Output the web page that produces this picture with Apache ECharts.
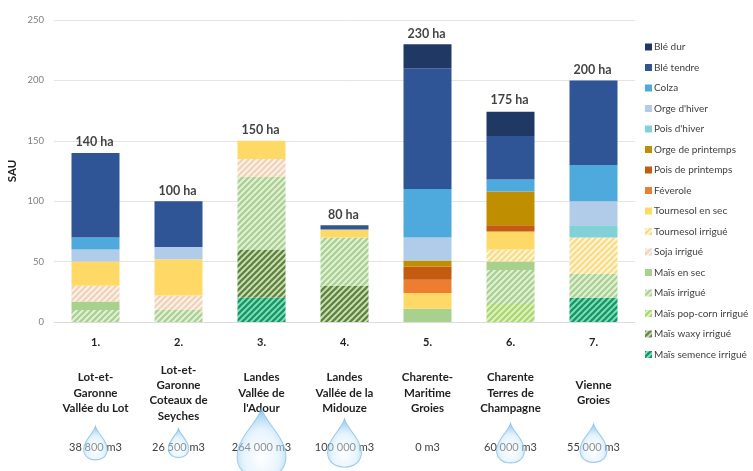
<!DOCTYPE html>
<html>
<head>
<meta charset="utf-8">
<style>html,body{margin:0;padding:0;background:#fff}#c{width:753px;height:471px}</style>
<script src="https://cdn.jsdelivr.net/npm/echarts@6/dist/echarts.min.js"></script>
</head>
<body>
<div id="c"></div>
<script>
const siteNumbers = ['1.','2.','3.','4.','5.','6.','7.'];
const siteNames = ['Lot-et-\nGaronne\nVallée du Lot','Lot-et-\nGaronne\nCoteaux de\nSeyches','Landes\nVallée de\nl\'Adour','Landes\nVallée de la\nMidouze','Charente-\nMaritime\nGroies','Charente\nTerres de\nChampagne','Vienne\nGroies'];
const waterVolumes = [38800,26500,264000,100000,0,60000,55000];
const totals = [140,100,150,80,230,175,200];
const yTicks = [0,50,100,150,200,250];

const bleDur          = [0,0,0,0,20,20,0];
const bleTendre       = [70,38,0,3.5,100,36,70];
const colza           = [10,0,0,0,40,10,30];
const orgeHiver       = [10,10,0,0,19,0,20];
const poisHiver       = [0,0,0,0,0,0,10];
const orgePrintemps   = [0,0,0,0,5,28,0];
const poisPrintemps   = [0,0,0,0,11,5,0];
const feverole        = [0,0,0,0,11,0,0];
const tournesolSec    = [20,30,15,6.5,13,15,0];
const tournesolIrrigue= [0,0,0,0,0,10,30];
const sojaIrrigue     = [13,12,15,0,0,0,0];
const maisSec         = [7,0,0,0,11,7,0];
const maisIrrigue     = [10,10,60,40,0,28,20];
const maisPopCorn     = [0,0,0,0,0,15,0];
const maisWaxy        = [0,0,40,30,0,0,0];
const maisSemence     = [0,0,20,0,0,0,20];

function hatch(bg, fg) {
  const n = 6, cv = document.createElement('canvas');
  cv.width = n; cv.height = n;
  const g = cv.getContext('2d');
  g.fillStyle = bg; g.fillRect(0,0,n,n);
  g.strokeStyle = fg; g.lineWidth = 2.3;
  [-n,0,n].forEach(o => { g.beginPath(); g.moveTo(o-1,n+1); g.lineTo(o+n+1,-1); g.stroke(); });
  return { image: cv, repeat: 'repeat' };
}

const crops = [
  ['Blé dur', bleDur, '#203864'],
  ['Blé tendre', bleTendre, '#2f5597'],
  ['Colza', colza, '#4ea9dc'],
  ["Orge d'hiver", orgeHiver, '#b0cce8'],
  ["Pois d'hiver", poisHiver, '#82d0d8'],
  ['Orge de printemps', orgePrintemps, '#bf8f00'],
  ['Pois de printemps', poisPrintemps, '#c55a11'],
  ['Féverole', feverole, '#ed7d31'],
  ['Tournesol en sec', tournesolSec, '#ffd966'],
  ['Tournesol irrigué', tournesolIrrigue, hatch('#fff7dd','#fbdc85')],
  ['Soja irrigué', sojaIrrigue, hatch('#fdf3ea','#f2d2ba')],
  ['Maïs en sec', maisSec, '#a9d18e'],
  ['Maïs irrigué', maisIrrigue, hatch('#e6f2dc','#abd192')],
  ['Maïs pop-corn irrigué', maisPopCorn, hatch('#e2f3c8','#a9d86e')],
  ['Maïs waxy irrigué', maisWaxy, hatch('#cfe2b8','#5f8442')],
  ['Maïs semence irrigué', maisSemence, hatch('#7fe3c0','#1c9565')]
];

const font = 'Lato, "Open Sans", sans-serif';
const dropPath = 'path://M50 0 C56 30 100 62 100 105 C100 133 78 150 50 150 C22 150 0 133 0 105 C0 62 44 30 50 0 Z';
const dropHeight = v => 0.61 * Math.pow(v, 0.38);
const fmtVol = v => String(v).replace(/\B(?=(\d{3})+$)/g, ' ') + ' m3';

const barSeries = crops.slice().reverse().map(c => ({
  name: c[0], type: 'bar', stack: 'sau', xAxisIndex: 0, yAxisIndex: 0,
  barWidth: 48, data: c[1], itemStyle: { color: c[2] }, silent: true
}));

const option = {
  animation: false,
  backgroundColor: '#fff',
  textStyle: { fontFamily: font },
  grid: [
    { left: 54, width: 581, top: 20, height: 302, outerBoundsMode: 'none' },
    { left: 54, width: 581, top: 410, height: 66, outerBoundsMode: 'none' }
  ],
  legend: {
    orient: 'vertical', left: 640, top: 36, itemWidth: 7, itemHeight: 7, itemGap: 8.5,
    icon: 'rect', selectedMode: false,
    data: crops.map(c => c[0]),
    textStyle: { fontFamily: font, fontSize: 10, color: '#404040', padding: [0,0,0,-3], lineHeight: 12 }
  },
  xAxis: [
    { type: 'category', gridIndex: 0, data: siteNumbers,
      axisLine: { lineStyle: { color: '#dcdcdc' } }, axisTick: { show: false },
      axisLabel: { interval: 0, margin: 15, fontFamily: font, fontSize: 11, fontWeight: 'bold', color: '#1f1f1f' } },
    { type: 'category', gridIndex: 0, position: 'bottom', offset: 71, data: siteNames,
      axisLine: { show: false }, axisTick: { show: false },
      axisLabel: { interval: 0, margin: 0, verticalAlign: 'middle', lineHeight: 15.3, fontFamily: font, fontSize: 11.5, fontWeight: 'bold', color: '#1f1f1f' } },
    { type: 'category', gridIndex: 0, position: 'bottom', offset: 125, data: waterVolumes.map(fmtVol),
      axisLine: { show: false }, axisTick: { show: false },
      axisLabel: { interval: 0, margin: 0, verticalAlign: 'middle', fontFamily: font, fontSize: 11, color: '#404040' } },
    { type: 'category', gridIndex: 1, data: siteNumbers, show: false }
  ],
  yAxis: [
    { type: 'value', gridIndex: 0, min: 0, max: 250, interval: 50, name: 'SAU', nameLocation: 'middle', nameGap: 36, nameMoveOverlap: false,
      nameTextStyle: { fontFamily: font, fontSize: 11.5, fontWeight: 'bold', color: '#1f1f1f' },
      axisLine: { show: false }, axisTick: { show: false },
      axisLabel: { margin: 10, fontFamily: font, fontSize: 9.5, color: '#7f7f7f', customValues: yTicks },
      splitLine: { lineStyle: { color: '#e4e4e4' } } },
    { type: 'value', gridIndex: 1, min: 0, max: 1, show: false }
  ],
  series: barSeries.concat([
    { name: 'totaux', type: 'scatter', xAxisIndex: 0, yAxisIndex: 0, symbolSize: 0, silent: true, z: 5,
      data: totals,
      label: { show: true, position: 'top', distance: 4, offset: [-1, 0], formatter: p => p.value + ' ha',
        fontFamily: font, fontSize: 12.5, fontWeight: 'bold', color: '#111' } },
    { name: 'eau', type: 'scatter', xAxisIndex: 3, yAxisIndex: 1, silent: true, z: 6, clip: false,
      symbol: dropPath, symbolKeepAspect: false,
      data: waterVolumes.map(v => 0.5),
      symbolSize: (val, p) => { const h = dropHeight(waterVolumes[p.dataIndex]); return [h * 0.7, h]; },
      itemStyle: {
        opacity: 0.8,
        borderColor: 'rgba(120,185,232,0.9)', borderWidth: 1,
        color: { type: 'radial', x: 0.5, y: 0.68, r: 0.6, colorStops: [
          { offset: 0, color: 'rgba(255,255,255,0.55)' },
          { offset: 0.6, color: 'rgba(205,232,250,0.6)' },
          { offset: 1, color: 'rgba(125,190,235,0.9)' } ] }
      } }
  ])
};
const chart = echarts.init(document.getElementById('c'), null, { renderer: 'canvas', width: 753, height: 471 });
chart.setOption(option);
</script>
</body>
</html>
